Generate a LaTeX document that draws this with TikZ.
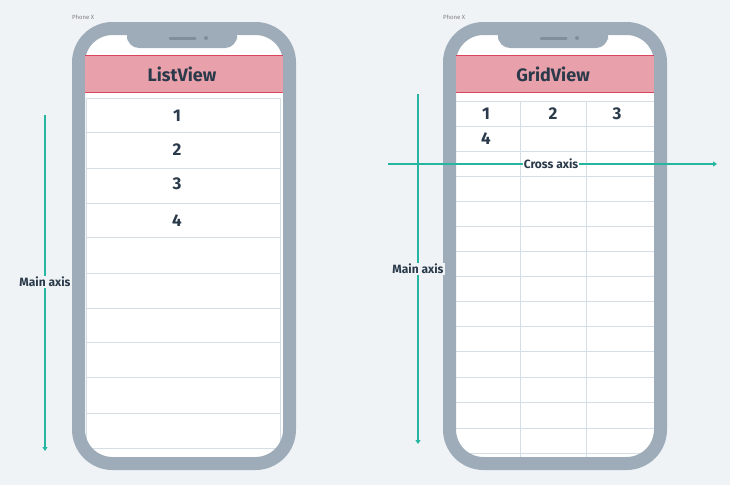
\documentclass[tikz,border=0pt]{standalone}
\usepackage{fontspec}
\setmainfont{Fira Sans}
\usetikzlibrary{arrows.meta}
\definecolor{bg}{HTML}{EFF3F6}
\definecolor{frame}{HTML}{9DACB8}
\definecolor{gridc}{HTML}{D5DDE5}
\definecolor{teal}{HTML}{26B5A0}
\definecolor{ink}{HTML}{2B3A4A}
\definecolor{pink}{HTML}{E8A0AA}
\definecolor{redl}{HTML}{D9455F}
\definecolor{spk}{HTML}{7F8E9B}
\tikzset{
  num/.style={font=\bfseries\fontsize{17}{17}\selectfont, text=ink},
  title/.style={font=\bfseries\fontsize{18}{18}\selectfont, text=ink},
  axislbl/.style={font=\bfseries\fontsize{12}{12}\selectfont, text=ink, fill=bg, inner sep=1pt},
  axisarrow/.style={draw=teal, line width=1.2pt, -{Triangle[length=4pt,width=5pt]}},
  small/.style={font=\fontsize{6}{6}\selectfont, text=gray, anchor=west, inner sep=0pt},
  gl/.style={draw=gridc, line width=0.9pt},
}
\newcommand{\phonescreen}[1]{%
  \fill[white, rounded corners=28pt] (#1+84,34) rectangle (#1+284,459);
}
\newcommand{\phoneframe}[1]{%
  \draw[frame, line width=13pt, rounded corners=34pt] (#1+78.5,28.5) rectangle (#1+289.5,463.5);
  \fill[frame, rounded corners=12pt] (#1+127,28) -- (#1+127,48) -- (#1+237,48) -- (#1+237,28) -- cycle;
  \fill[frame] (#1+127,28) rectangle (#1+237,38);
  \draw[line width=3pt, line cap=round, color=spk] (#1+170,38) -- (#1+195,38);
  \fill[spk] (#1+206,38) circle (2pt);
}
\newcommand{\phoneheader}[1]{%
  \fill[pink] (#1+85,55) rectangle (#1+283,92);
  \draw[redl, line width=0.8pt] (#1+85,92) -- (#1+283,92);
  \draw[redl, line width=0.4pt] (#1+85,55) -- (#1+283,55);
}
\begin{document}
\begin{tikzpicture}[x=1pt,y=-1pt]
\fill[bg] (0,0) rectangle (730,485);
\useasboundingbox (0,0) rectangle (730,485);

% left phone
\phonescreen{0}
\begin{scope}
\clip[rounded corners=28pt] (84,34) rectangle (284,459);
\draw[gl] (86,98) -- (280,98);
\draw[gl] (86,98) -- (86,470) (280,98) -- (280,470);
\foreach \y in {132,168,203,237,273,308,342,377,413,448}
  \draw[gl] (86,\y) -- (280,\y);
\end{scope}
\phoneframe{0}
\phoneheader{0}
\node[small] (px1) at (72,17) {Phone X};
\node[title] (t1) at (182,74) {ListView};
\node[num] (l1) at (177,116) {1};
\node[num] (l2) at (177,150) {2};
\node[num] (l3) at (177,184) {3};
\node[num] (l4) at (177,221) {4};
\coordinate (ma1s) at (45,115);
\coordinate (ma1e) at (45,451);
\draw[axisarrow] (ma1s) -- (ma1e);
\node[axislbl] (ma1) at (45,282) {Main axis};

% right phone
\phonescreen{371}
\begin{scope}
\clip[rounded corners=28pt] (455,34) rectangle (655,459);
\foreach \y in {101,126,151,176,201,226,251,276,301,326,351,377,402,428,453}
  \draw[gl] (456,\y) -- (654,\y);
\draw[gl] (520.5,101) -- (520.5,458) (586,101) -- (586,458);
\end{scope}
\phoneframe{371}
\phoneheader{371}
\node[small] (px2) at (443,17) {Phone X};
\node[title] (t2) at (553,74) {GridView};
\node[num] (g1) at (486,114) {1};
\node[num] (g2) at (553,114) {2};
\node[num] (g3) at (617,114) {3};
\node[num] (g4) at (486,139) {4};
\coordinate (ma2s) at (418,94);
\coordinate (ma2e) at (418,444);
\draw[axisarrow] (ma2s) -- (ma2e);
\node[axislbl] (ma2) at (418,269) {Main axis};
\coordinate (cas) at (388,164);
\coordinate (cae) at (717,164);
\draw[axisarrow] (cas) -- (cae);
\node[axislbl, fill=white] (ca) at (551,164) {Cross axis};
\end{tikzpicture}
\end{document}
